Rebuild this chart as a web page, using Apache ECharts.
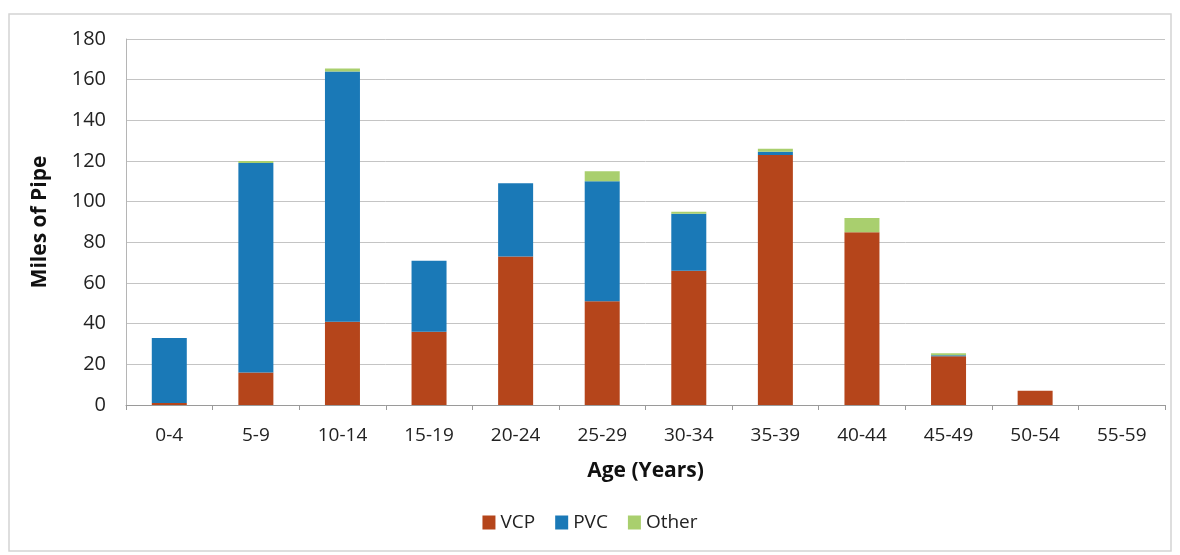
<!DOCTYPE html>
<html>
<head>
<meta charset="utf-8">
<script src="https://cdn.jsdelivr.net/npm/echarts@6/dist/echarts.min.js"></script>
<style>
  html, body { margin: 0; padding: 0; background: #ffffff; }
  #chart { width: 1180px; height: 555px; }
</style>
</head>
<body>
<div id="chart"></div>
<script>
// Pipe inventory by age bracket, miles of pipe per material
const ageGroups = ['0-4', '5-9', '10-14', '15-19', '20-24', '25-29', '30-34', '35-39', '40-44', '45-49', '50-54', '55-59'];
const vcpMiles   = [1, 16, 41, 36, 73, 51, 66, 123, 85, 24, 7, 0];
const pvcMiles   = [32, 103, 123, 35, 36, 59, 28, 1.5, 0, 0.5, 0, 0];
const otherMiles = [0, 1, 1.5, 0, 0, 5, 1, 1.5, 7, 1, 0, 0];
const yTicks = { min: 0, max: 180, interval: 20 };

const font = 'Open Sans, Lato, sans-serif';
const chart = echarts.init(document.getElementById('chart'), null, { renderer: 'canvas' });

function barSeries(name, data, color) {
  return {
    name: name,
    type: 'bar',
    stack: 'miles',
    data: data,
    barWidth: 35,
    itemStyle: { color: color },
    emphasis: { disabled: true }
  };
}

chart.setOption({
  animation: false,
  textStyle: { fontFamily: font },
  graphic: [{
    type: 'rect',
    shape: { x: 9, y: 14, width: 1162, height: 537 },
    style: { fill: 'none', stroke: '#d4d4d4', lineWidth: 1.5 },
    silent: true
  }],
  grid: { left: 126, right: 15, top: 39, bottom: 150 },
  legend: {
    bottom: 18,
    left: 'center',
    itemWidth: 13,
    itemHeight: 14,
    itemGap: 20,
    icon: 'rect',
    padding: [5, 5, 5, 45],
    textStyle: { fontSize: 19, color: '#222', fontFamily: font },
    data: ['VCP', 'PVC', 'Other']
  },
  xAxis: {
    type: 'category',
    data: ageGroups,
    name: 'Age (Years)',
    nameLocation: 'middle',
    nameGap: 56,
    nameTextStyle: { fontSize: 21, fontWeight: 'bold', color: '#111', fontFamily: font },
    axisLine: { lineStyle: { color: '#9a9a9a', width: 1 } },
    axisTick: { show: true, alignWithLabel: false, length: 5, lineStyle: { color: '#9a9a9a' } },
    axisLabel: { fontSize: 19, color: '#222', margin: 21 }
  },
  yAxis: {
    type: 'value',
    min: yTicks.min,
    max: yTicks.max,
    interval: yTicks.interval,
    name: 'Miles of Pipe',
    nameLocation: 'middle',
    nameGap: 75,
    nameRotate: 90,
    nameTextStyle: { fontSize: 21, fontWeight: 'bold', color: '#111', fontFamily: font },
    axisLine: { show: true, lineStyle: { color: '#b5b5b5', width: 1 } },
    axisTick: { show: false },
    axisLabel: { fontSize: 20, color: '#222', margin: 20 },
    splitLine: { lineStyle: { color: '#c4c4c4', width: 1 } }
  },
  series: [
    barSeries('VCP', vcpMiles, '#B5451B'),
    barSeries('PVC', pvcMiles, '#1A79B7'),
    barSeries('Other', otherMiles, '#A9CF6E')
  ]
});
</script>
</body>
</html>
